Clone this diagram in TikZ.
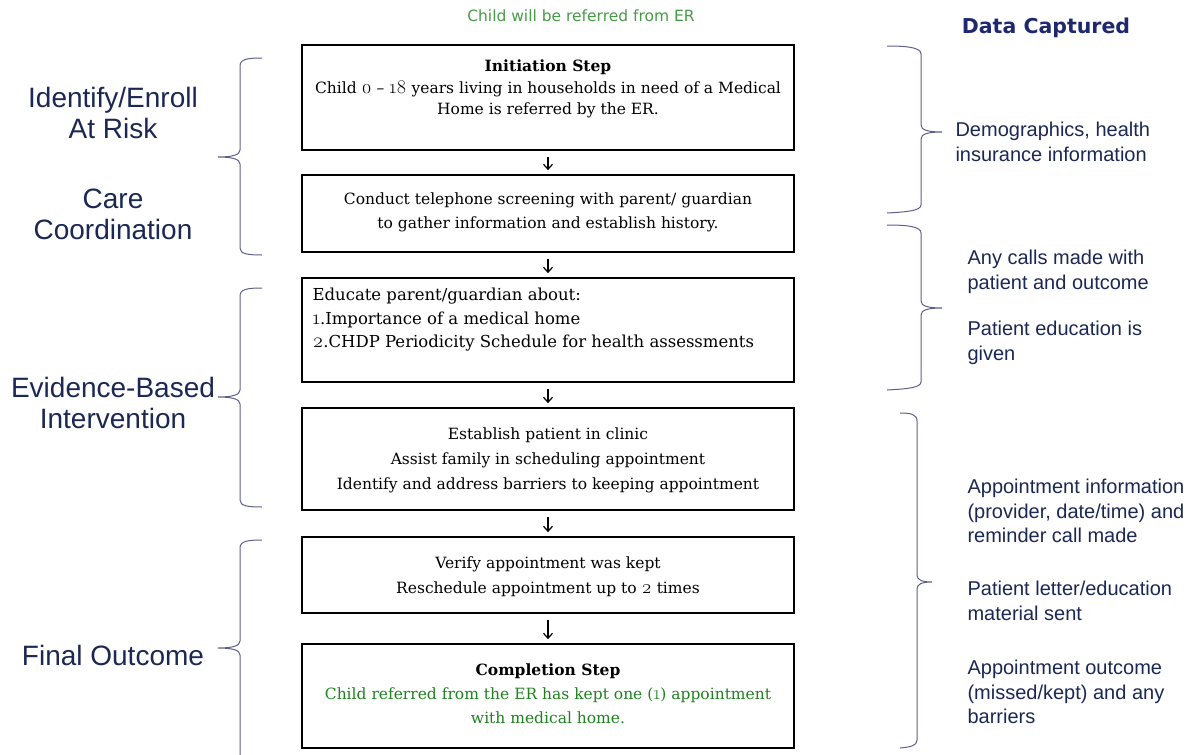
\documentclass[tikz,border=0pt]{standalone}
\usepackage{fontspec}
\setmainfont{DejaVu Serif}
\newfontfamily\lmos{Latin Modern Roman}[Numbers=OldStyle, Scale=1.25]
\newcommand\osn[1]{{\lmos #1}}
\newfontfamily\arialf{Liberation Sans}
\newfontfamily\verdf{DejaVu Sans}
\usetikzlibrary{arrows.meta}
\definecolor{navy}{RGB}{28,40,84}
\definecolor{navyb}{RGB}{30,40,110}
\definecolor{bracec}{RGB}{95,95,140}
\definecolor{grn}{RGB}{70,155,70}
\definecolor{grn2}{RGB}{30,130,30}
\tikzset{
  stepbox/.style={draw=black, line width=1.7pt, minimum width=492pt, inner sep=0pt},
  boxtext/.style={align=center, font=\fontsize{15.5}{24}\selectfont},
  flow/.style={line width=1.2pt, -{Straight Barb[length=5pt,width=9pt,line width=1.2pt]}, shorten <=6pt, shorten >=4pt},
  brace/.style={draw=bracec, line width=1pt},
  lefttxt/.style={text=navy, align=center, font=\arialf\fontsize{28}{31}\selectfont},
  righttxt/.style={text=navy, align=left, anchor=west, font=\arialf\fontsize{20}{24.5}\selectfont},
}
\begin{document}
\begin{tikzpicture}[x=1pt,y=-1pt]
\useasboundingbox (0,0) rectangle (1195,755);
\fill[white] (0,0) rectangle (1195,755);

% top texts
\node[text=grn, font=\verdf\fontsize{15.5}{18}\selectfont] (toptxt) at (581,16) {Child will be referred from ER};
\node[text=navyb, font=\verdf\bfseries\fontsize{20.5}{24}\selectfont] (datacap) at (1046,28) {Data Captured};

% boxes
\node[stepbox, minimum height=105pt] (b1) at (548,97.5) {};
\node[stepbox, minimum height=77pt] (b2) at (548,213.5) {};
\node[stepbox, minimum height=104pt] (b3) at (548,330) {};
\node[stepbox, minimum height=102pt] (b4) at (548,459) {};
\node[stepbox, minimum height=76pt] (b5) at (548,575) {};
\node[stepbox, minimum height=104pt] (b6) at (548,696) {};

% box texts
\node[boxtext, font=\fontsize{15.5}{21.5}\selectfont] (t1) at (548,89) {\textbf{Initiation Step}\\Child \osn{0} -- \osn{18} years living in households in need of a Medical\\Home is referred by the ER.};
\node[boxtext] (t2) at (548,212) {Conduct telephone screening with parent/ guardian\\to gather information and establish history.};
\node[boxtext, font=\fontsize{16.5}{23.5}\selectfont, align=left, anchor=west] (t3) at (309,320) {Educate parent/guardian about:\\\osn{1}.Importance of a medical home\\\osn{2}.CHDP Periodicity Schedule for health assessments};
\node[boxtext, font=\fontsize{15.5}{25}\selectfont] (t4) at (548,460) {Establish patient in clinic\\Assist family in scheduling appointment\\Identify and address barriers to keeping appointment};
\node[boxtext, font=\fontsize{15.5}{25}\selectfont] (t5) at (548,577) {Verify appointment was kept\\Reschedule appointment up to \osn{2} times};
\node[boxtext] (t6) at (548,694) {\textbf{Completion Step}\\\textcolor{grn2}{Child referred from the ER has kept one (\osn{1}) appointment}\\\textcolor{grn2}{with medical home.}};

\draw[flow] (b1) -- (b2);
\draw[flow] (b2) -- (b3);
\draw[flow] (b3) -- (b4);
\draw[flow] (b4) -- (b5);
\draw[flow] (b5) -- (b6);

% left labels
\node[lefttxt] (l1) at (113,113) {Identify/Enroll\\At Risk};
\node[lefttxt] (l2) at (113,214) {Care\\Coordination};
\node[lefttxt] (l3) at (113,403) {Evidence-Based\\Intervention};
\node[lefttxt] (l4) at (113,655) {Final Outcome};

% left braces
\draw[brace] (262,58) .. controls (248,58) and (240,59) .. (240,66) -- (240,150) .. controls (240,155) and (232,157) .. (218,157) .. controls (232,157) and (240,159) .. (240,164) -- (240,248) .. controls (240,254) and (248,255) .. (262,255);
\draw[brace] (262,288) .. controls (248,288) and (240,289) .. (240,296) -- (240,390) .. controls (240,395) and (232,397) .. (218,397) .. controls (232,397) and (240,399) .. (240,404) -- (240,500) .. controls (240,506) and (248,507) .. (262,507);
\draw[brace] (262,540) .. controls (248,540) and (240,541) .. (240,548) -- (240,641) .. controls (240,646) and (232,648) .. (218,648) .. controls (232,648) and (240,650) .. (240,655) -- (240,756);

% right braces
\draw[brace] (887,46) .. controls (905,46) and (921,47) .. (921,54) -- (921,125) .. controls (921,130) and (928,132) .. (942,132) .. controls (928,132) and (921,134) .. (921,139) -- (921,205) .. controls (921,211) and (905,212) .. (887,213);
\draw[brace] (887,225) .. controls (905,225) and (921,226) .. (921,233) -- (921,301) .. controls (921,306) and (928,308) .. (942,308) .. controls (928,308) and (921,310) .. (921,315) -- (921,382) .. controls (921,388) and (905,389) .. (887,390);
\draw[brace] (900,413) .. controls (910,413) and (917,414) .. (917,421) -- (917,575) .. controls (917,580) and (922,582) .. (932,582) .. controls (922,582) and (917,584) .. (917,589) -- (917,740) .. controls (917,746) and (910,747) .. (900,748);

% right texts
\node[righttxt] (r1) at (952,142) {Demographics, health\\insurance information};
\node[righttxt] (r2) at (964,272) {Any calls made with\\patient and outcome};
\node[righttxt] (r3) at (964,343) {Patient education is\\given};
\node[righttxt] (r4) at (964,511) {Appointment information\\(provider, date/time) and\\reminder call made};
\node[righttxt] (r5) at (964,601) {Patient letter/education\\material sent};
\node[righttxt] (r6) at (964,692) {Appointment outcome\\(missed/kept) and any\\barriers};
\end{tikzpicture}
\end{document}
